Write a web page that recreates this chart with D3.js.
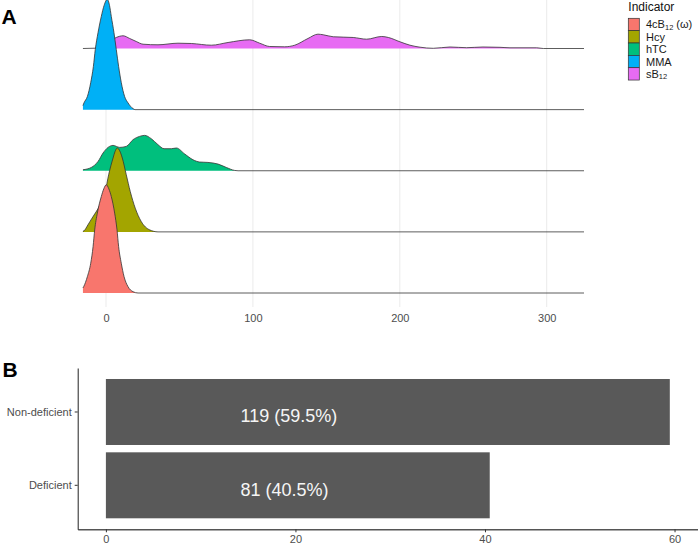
<!DOCTYPE html>
<html>
<head>
<meta charset="utf-8">
<title>Indicator ridges and deficiency bars</title>
<script src="https://d3js.org/d3.v7.min.js"></script>
<style>
body { margin: 0; background: #fff; }
svg { display: block; font-family: "Liberation Sans", Arial, sans-serif; }
</style>
</head>
<body>
<script>
// indicators, bottom ridge first
var indicators = ["4cB12", "Hcy", "hTC", "MMA", "sB12"];
var indicatorColors = ["#F8766D", "#A3A500", "#00BF7D", "#00B0F6", "#E76BF3"];
// legend labels split so the "12" can be set as a subscript
var indicatorLabels = [["4cB", "12", " (\u03c9)"], ["Hcy"], ["hTC"], ["MMA"], ["sB", "12"]];

// ridge outlines: [value, relative density]
var cb12Density = [[-15.7,5],[-15.2,6.3],[-12.7,16.3],[-10.4,29.7],[-8.8,46.3],[-7.7,63],[-5.9,79.7],[-3.2,96.3],[-1.5,104],[0.2,108],[1.9,104],[3.6,96.3],[5.9,79.7],[7.5,63],[8.6,46.3],[10.4,29.7],[12.3,16.3],[15.0,6.3],[18.4,1.3],[21.8,0],[325.4,0]];
var hcyDensity = [[-15.7,0.5],[-15.0,1],[-12.3,7],[-9.5,13.7],[-4.1,27],[-0.5,40.3],[1.8,57],[4.8,73.7],[6.1,80],[7.7,83.7],[9.3,81],[11.1,73.7],[13.8,57],[16.5,40.3],[19.9,23.7],[24.0,10.3],[29.7,2],[35.4,0],[325.4,0]];
var htcDensity = [[-15.7,1],[-10.0,3.3],[-5.4,9.3],[-2.0,17.7],[1.4,23.3],[4.8,25.3],[9.3,23.3],[13.8,24.3],[18.4,31],[22.9,34.3],[26.3,35.3],[30.8,32],[35.4,26],[39.5,22],[44.5,22],[47.9,22.7],[53.6,16.7],[59.2,11],[63.8,8.7],[69.4,8.3],[76.2,6.7],[81.9,3.3],[87.6,0.3],[89.9,0],[325.4,0]];
var mmaDensity = [[-15.7,4],[-15.0,6.7],[-12.7,13],[-10.4,27],[-8.6,43],[-7.3,60],[-5.4,77],[-3.2,93],[-1.3,104],[0.9,110],[2.4,104],[3.6,93],[5.4,77],[7.0,60],[8.6,43],[10.4,27],[12.7,13],[15.0,6.7],[18.4,1],[19.7,0],[325.4,0]];
var sb12Density = [[-15.7,0],[-7.5,0.3],[-4.1,1.5],[-0.7,4],[2.7,7.5],[7.0,11],[11.6,12.7],[16.1,10],[20.6,7],[25.2,4.3],[35.4,3.7],[49.0,5.3],[58.1,5],[71.7,3.3],[83.1,6],[97.8,8.7],[104.6,5.3],[111.4,2],[121.6,1.7],[128.5,3.3],[137.5,10],[144.3,14.3],[147.9,13.7],[154.7,11.7],[168.3,11],[177.4,9.3],[187.7,12],[192.2,11],[200.1,6.7],[206.9,3.3],[213.8,1.3],[222.8,0.2],[234.2,1.5],[245.5,0.8],[256.6,1.5],[268.2,1.2],[275.0,0.7],[293.2,0.7],[297.7,0],[325.4,0]];
var densities = [cb12Density, hcyDensity, htcDensity, mmaDensity, sb12Density];
var ridgeTicks = [0, 100, 200, 300];

// panel B
var statusGroups = ["Non-deficient", "Deficient"];
var statusCounts = [119, 81];
var statusPercents = [59.5, 40.5];
var barTicks = [0, 20, 40, 60];
var labelAt = 14.2; // where the bar labels start, in bar units

var width = 698,
    height = 543,
    densityPerRow = 61,
    svg = d3.select("body").append("svg")
      .attr("width", width)
      .attr("height", height);

// ---------- panel A: ridgelines ----------
var xA = d3.scaleLinear().domain([0, 300]).range([106, 546.7]);
var rowY = d3.scaleLinear().domain([1, 5]).range([293, 48.5]);

var gridG = svg.append("g");
gridG.selectAll("line").data(ridgeTicks).enter().append("line")
  .attr("x1", function(d) { return xA(d); })
  .attr("x2", function(d) { return xA(d); })
  .attr("y1", 0)
  .attr("y2", 307)
  .attr("stroke", "#ebebeb")
  .attr("stroke-width", 1);

var ridgeG = svg.append("g");
// top ridge first so the lower ones sit on top of it
d3.range(indicators.length).reverse().forEach(function(i) {
  var pos = i + 1;
  var area = d3.area()
    .x(function(d) { return xA(d[0]); })
    .y0(rowY(pos))
    .y1(function(d) { return rowY(pos + d[1] / densityPerRow); })
    .curve(d3.curveMonotoneX);
  var line = d3.line()
    .x(function(d) { return xA(d[0]); })
    .y(function(d) { return rowY(pos + d[1] / densityPerRow); })
    .curve(d3.curveMonotoneX);
  ridgeG.append("path")
    .datum(densities[i])
    .attr("d", area)
    .attr("fill", indicatorColors[i]);
  ridgeG.append("path")
    .datum(densities[i])
    .attr("d", line)
    .attr("fill", "none")
    .attr("stroke", "#333")
    .attr("stroke-width", 0.8);
});

var axisA = svg.append("g")
  .attr("transform", "translate(0,311)")
  .call(d3.axisBottom(xA).tickValues(ridgeTicks).tickSize(0).tickPadding(3));
axisA.select(".domain").remove();
axisA.selectAll("text")
  .attr("fill", "#4d4d4d")
  .style("font-size", "11px")
  .style("font-family", "'Liberation Sans', Arial, sans-serif");

// legend
var legend = svg.append("g").attr("transform", "translate(628.3,0)");
legend.append("text")
  .attr("x", 0)
  .attr("y", 11)
  .attr("fill", "#111")
  .style("font-size", "12px")
  .text("Indicator");
var keyH = 12.35;
indicators.forEach(function(name, i) {
  var top = 18.3 + i * keyH;
  legend.append("rect")
    .attr("x", 0)
    .attr("y", top)
    .attr("width", 11)
    .attr("height", keyH)
    .attr("fill", indicatorColors[i])
    .attr("stroke", "#333")
    .attr("stroke-width", 0.7);
  var t = legend.append("text")
    .attr("x", 17.7)
    .attr("y", top + keyH / 2 + 4)
    .attr("fill", "#1a1a1a")
    .style("font-size", "11px");
  var parts = indicatorLabels[i];
  t.append("tspan").text(parts[0]);
  if (parts.length > 1) {
    t.append("tspan").attr("dy", 1.5).style("font-size", "7.5px").text(parts[1]);
  }
  if (parts.length > 2) {
    t.append("tspan").attr("dy", -1.5).text(parts[2]);
  }
});

svg.append("text")
  .attr("x", 1.5)
  .attr("y", 24)
  .style("font-size", "21px")
  .style("font-weight", "bold")
  .text("A");

// ---------- panel B: bars ----------
var xB = d3.scaleLinear().domain([-2.975, 62.475]).range([77.7, 698]);
var yB = d3.scaleBand().domain(statusGroups).range([368, 529.3])
  .paddingInner(0.1).paddingOuter(0.15);

var barG = svg.append("g");
barG.selectAll("rect").data(statusGroups).enter().append("rect")
  .attr("x", xB(0))
  .attr("y", function(d) { return yB(d); })
  .attr("width", function(d, i) { return xB(statusPercents[i]) - xB(0); })
  .attr("height", yB.bandwidth())
  .attr("fill", "#595959");

barG.selectAll("text").data(statusGroups).enter().append("text")
  .attr("x", xB(labelAt))
  .attr("y", function(d) { return yB(d) + yB.bandwidth() / 2 + 10.5; })
  .attr("fill", "#f5f5f5")
  .style("font-size", "18px")
  .text(function(d, i) { return statusCounts[i] + " (" + statusPercents[i] + "%)"; });

var axisBx = svg.append("g")
  .attr("transform", "translate(0,529.3)")
  .call(d3.axisBottom(xB).tickValues(barTicks).tickSize(3).tickSizeOuter(0).tickPadding(3));
axisBx.select(".domain").attr("stroke", "#555").attr("stroke-width", 1.4);
axisBx.selectAll(".tick line").attr("stroke", "#333");
axisBx.selectAll("text")
  .attr("fill", "#4d4d4d")
  .style("font-size", "11px")
  .style("font-family", "'Liberation Sans', Arial, sans-serif");

var axisBy = svg.append("g")
  .attr("transform", "translate(77.7,0)")
  .call(d3.axisLeft(yB).tickSize(3).tickSizeOuter(0).tickPadding(3));
axisBy.select(".domain").attr("stroke", "#222").attr("stroke-width", 1);
axisBy.selectAll(".tick line").attr("stroke", "#333");
axisBy.selectAll("text")
  .attr("fill", "#4d4d4d")
  .style("font-size", "11px")
  .style("font-family", "'Liberation Sans', Arial, sans-serif");

svg.append("text")
  .attr("x", 2.5)
  .attr("y", 376.7)
  .style("font-size", "21px")
  .style("font-weight", "bold")
  .text("B");
</script>
</body>
</html>
